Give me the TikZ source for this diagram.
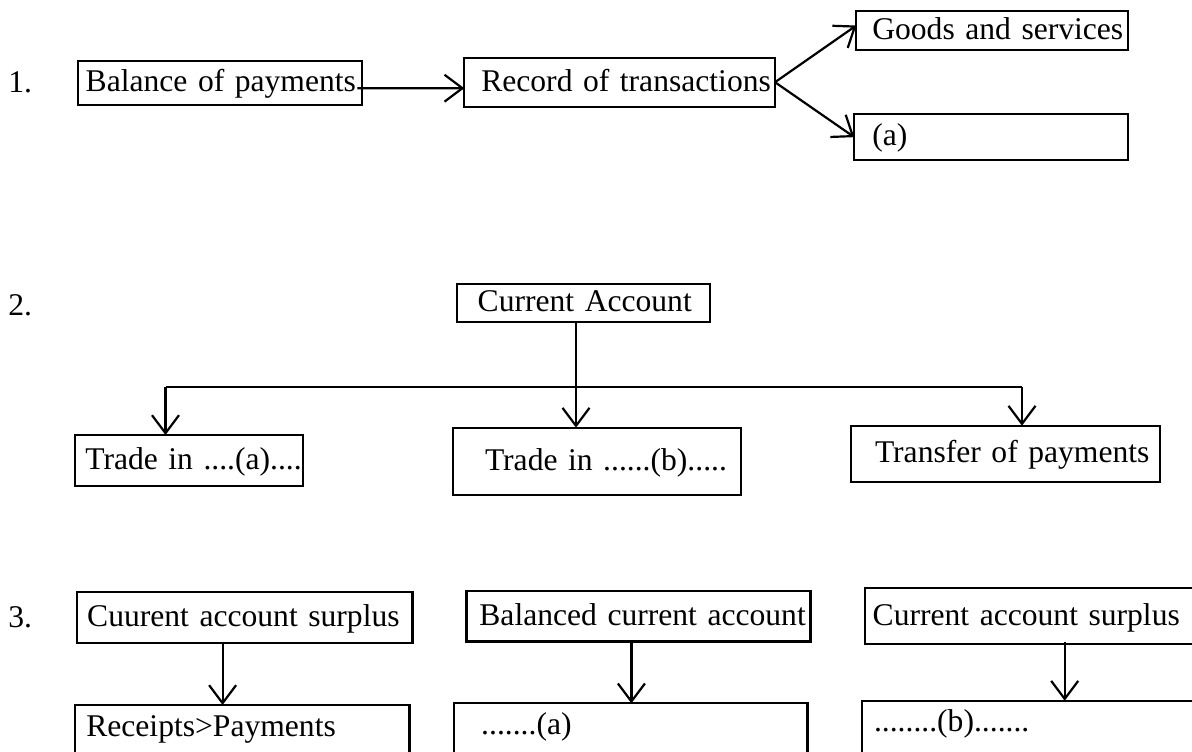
\documentclass[tikz,border=0pt]{standalone}
\usepackage{fontspec}
\setmainfont{Liberation Serif}
\usetikzlibrary{arrows.meta}
\setlength\parindent{0pt}

\begin{document}
\begin{tikzpicture}[x=0.5pt, y=-0.5pt,
	font=\fontsize{15.8}{19}\selectfont,
	box/.style={rectangle, draw=black, line width=1.1pt, anchor=north west, align=left,
		inner xsep=0pt, inner ysep=0pt, outer sep=0pt, text height=12.3pt, text depth=3.5pt},
	tail/.style={box, minimum height=0pt, text height=15.5pt, text depth=13pt},
	indent/.style={execute at begin node={\hspace*{#1}}},
	num/.style={anchor=base west, inner sep=0pt},
	arr/.style={-{Straight Barb[length=9pt,width=13.5pt]}, line width=1.1pt}
	]
	\useasboundingbox (0,0) rectangle (1192,751);
	\clip (0,0) rectangle (1192,751);

	% 1.
	\node (n1) [num] at (8,92) {1.};
	\node (bop) [box, text width=142.3pt, minimum height=22.15pt, indent=4pt] at (77.7,61) {Balance of payments};
	\node (rec) [box, text width=155.35pt, minimum height=24.5pt, indent=8.5pt] at (464.3,57.7) {Record of transactions};
	\node (goods) [box, text width=135.7pt, minimum height=19.5pt, indent=8pt] at (856.3,11) {Goods and services};
	\node (oth) [box, text width=136.7pt, minimum height=22.85pt, indent=9pt] at (854.3,114.3) {(a)};

	\draw [arr] ([shift={(-5,5)}]bop.east) -- ([shift={(0,6)}]rec.west);
	\draw [arr] (rec.east) -- ([shift={(0,-5)}]goods.west);
	\draw [arr] (rec.east) -- (oth.west);

	% 2.
	\node (n2) [num] at (8,315) {2.};
	\node (ca) [box, text width=126.65pt, minimum height=18.85pt, indent=10.5pt] at (456.7,284) {Current Account};
	\node (ta) [box, text width=113.85pt, minimum height=25.5pt, indent=5pt] at (75.3,435) {Trade in ....(a)....};
	\node (tb) [box, text width=143.9pt, minimum height=33.65pt, indent=16pt] at (453,427.7) {Trade in ......(b).....};
	\node (tp) [box, text width=154.65pt, minimum height=28pt, indent=12pt] at (851,425.7) {Transfer of payments};

	\coordinate (fork) at (576,387.3);
	\coordinate (jl) at (165.5,387.3);
	\coordinate (jr) at (1022,387.3);
	\draw [arr] (ca.south -| fork) -- (fork |- tb.north);
	\draw [line width=1.1pt] (jl) -- (jr);
	\draw [arr] (jl) -- (jl |- ta.north);
	\draw [arr] (jr) -- (jr |- tp.north);

	% 3.
	\node (n3) [num] at (8,627) {3.};
	\node (s1) [box, text width=167.65pt, minimum height=25.5pt, indent=5pt] at (77.2,592.3) {Cuurent account surplus};
	\node (s2) [box, text width=172.05pt, minimum height=25.25pt, indent=6.5pt] at (466.4,591) {Balanced current account};
	\node (s3) [box, text width=172.65pt, minimum height=28pt, indent=4pt] at (864.7,588.3) {Current account surplus};
	\node (r1) [tail, text width=167.05pt, indent=5.5pt] at (75.3,705) {Receipts>Payments};
	\node (r2) [tail, text width=176.65pt, indent=13.5pt] at (454.2,703.3) {.......(a)};
	\node (r3) [tail, text width=174pt, indent=6pt] at (862,700.7) {........(b).......};

	\coordinate (c1) at (222.6,0);
	\coordinate (c2) at (631.4,0);
	\coordinate (c3) at (1064.7,0);
	\draw [arr] (s1.south -| c1) -- (r1.north -| c1);
	\draw [arr] (s2.south -| c2) -- (r2.north -| c2);
	\draw [arr] ([yshift=1.3pt]s3.south -| c3) -- (r3.north -| c3);

\end{tikzpicture}
\end{document}
